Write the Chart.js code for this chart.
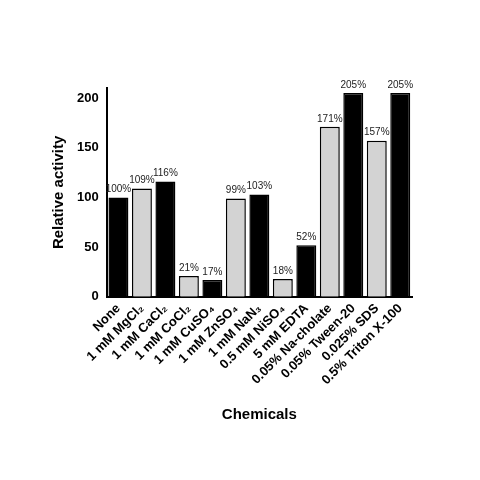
<!DOCTYPE html>
<html><head><meta charset="utf-8">
<script src="https://cdn.jsdelivr.net/npm/chart.js@4"></script>
<style>html,body{margin:0;padding:0;background:#fff}#w{width:480px;height:480px}</style>
</head><body><div id="w"><canvas id="c"></canvas></div>
<script>
const categories=["None","1 mM MgCl₂","1 mM CaCl₂","1 mM CoCl₂","1 mM CuSO₄","1 mM ZnSO₄","1 mM NaN₃","0.5 mM NiSO₄","5 mM EDTA","0.05% Na-cholate","0.05% Tween-20","0.025% SDS","0.5% Triton X-100"];
const values=[100,109,116,21,17,99,103,18,52,171,205,157,205];
const yTicks=[0,50,100,150,200];
const colors=values.map((v,i)=>i%2===0?'#000':'#d3d3d3');
const F='"Liberation Sans", Arial, sans-serif';
const labelPlugin={id:'lbl',afterDatasetsDraw(ch){const ctx=ch.ctx;const m=ch.getDatasetMeta(0);ctx.save();ctx.font='10px '+F;ctx.fillStyle='#222';ctx.textAlign='center';ctx.textBaseline='bottom';m.data.forEach((b,i)=>ctx.fillText(values[i]+'%',b.x,b.y-3));ctx.restore();}};
new Chart(document.getElementById('c'),{type:'bar',
data:{labels:categories,datasets:[{data:values,backgroundColor:colors,borderColor:'#000',borderWidth:1.5,barPercentage:0.85,categoryPercentage:1}]},
options:{responsive:true,maintainAspectRatio:false,animation:false,
layout:{padding:{left:46,right:68,top:88,bottom:52}},
plugins:{legend:{display:false},tooltip:{enabled:false}},
scales:{
x:{grid:{display:false,drawTicks:false},border:{color:'#000',width:2},
ticks:{color:'#000',font:{family:F,size:13,weight:'bold'},maxRotation:45,minRotation:45,autoSkip:false,padding:4},
title:{display:true,text:'Chemicals',color:'#000',font:{family:F,size:15,weight:'bold'},padding:{top:14}}},
y:{min:0,max:210,afterBuildTicks(a){a.ticks=yTicks.map(v=>({value:v}));},
grid:{display:false,drawTicks:true,tickLength:5,tickColor:'#000'},border:{color:'#000',width:2},
ticks:{color:'#000',font:{family:F,size:13,weight:'bold'},padding:3},
title:{display:true,text:'Relative activity',color:'#000',font:{family:F,size:15,weight:'bold'},padding:{bottom:6}}}}},
plugins:[labelPlugin]});
</script></body></html>
